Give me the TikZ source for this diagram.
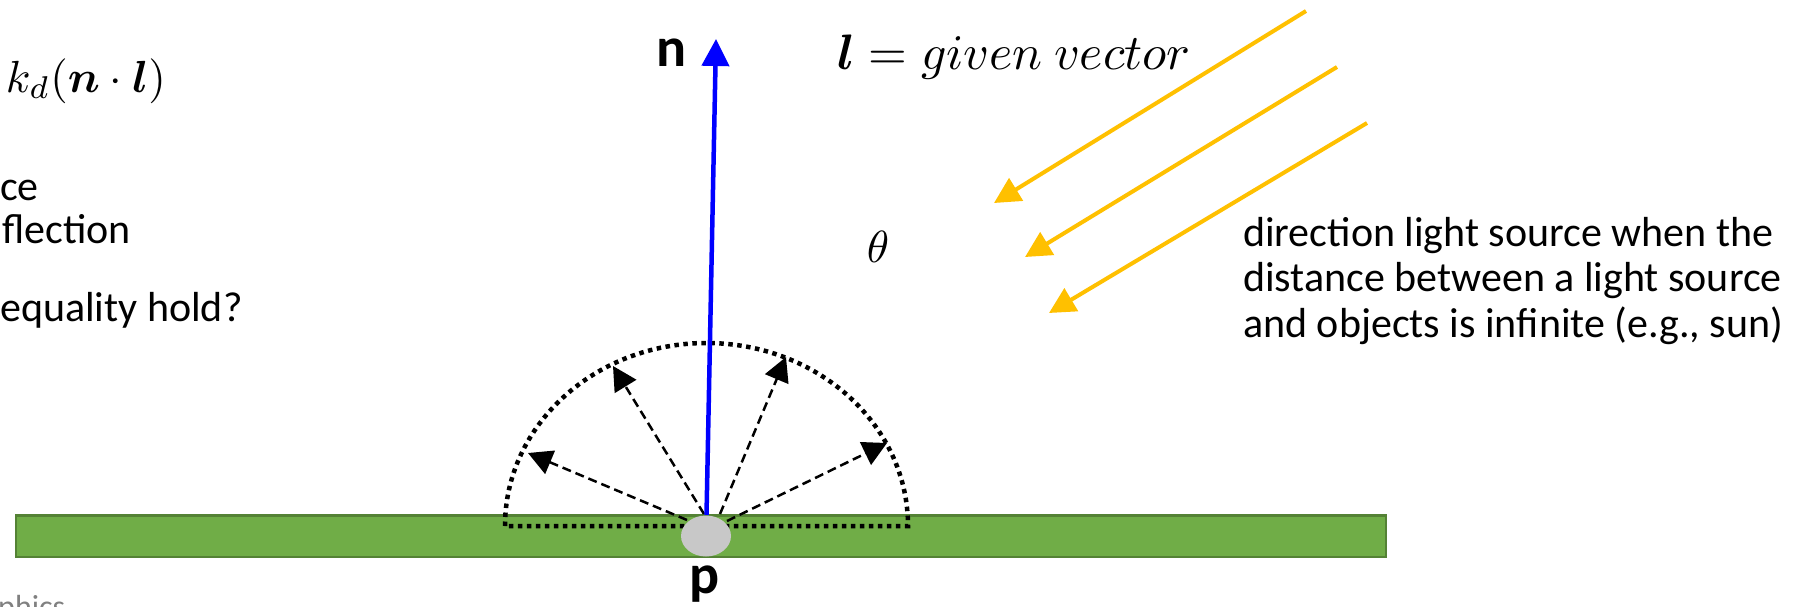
\documentclass[tikz,border=0pt]{standalone}
\usepackage{amsmath}
\usepackage{fontspec}
\setmainfont{Carlito}
\usetikzlibrary{arrows.meta,shapes.geometric}
\definecolor{grassfill}{RGB}{112,173,71}
\definecolor{grassedge}{RGB}{84,130,53}
\definecolor{sunyellow}{RGB}{255,192,0}
\definecolor{spotgrey}{RGB}{200,200,200}
\definecolor{footgrey}{RGB}{128,128,128}
\begin{document}
\begin{tikzpicture}[x=1pt,y=-1pt,
  bodytext/.style={font=\fontsize{42}{45.5}\selectfont, inner sep=0pt, anchor=base west, align=left},
  mathtext/.style={font=\fontsize{10}{12}\selectfont, scale=4.5, inner sep=0pt},
  vlabel/.style={font=\fontsize{56}{60}\selectfont\bfseries, inner sep=0pt, anchor=base},
  dotline/.style={line width=4.5pt, dash pattern=on 4.5pt off 4.5pt},
  rayarrow/.style={line width=2.5pt, dash pattern=on 9pt off 5pt, -{Triangle[length=24pt,width=25pt]}},
  sunarrow/.style={sunyellow, line width=4pt, -{Triangle[length=26pt,width=26pt]}},
  normarrow/.style={blue, line width=4.5pt, -{Triangle[length=27pt,width=27pt]}}]
\clip (0,0) rectangle (1808,606);
\fill[white] (0,0) rectangle (1808,606);

% left, cropped text
\node[mathtext, anchor=base west] (formula) at (5,92) {$k_d(\boldsymbol{n}\cdot\boldsymbol{l})$};
\node[bodytext] (t1) at (0,200) {ce};
\node[bodytext] (t2) at (2,243) {flection};
\node[bodytext] (t3) at (0,321) {equality hold?};
\node[font=\fontsize{32}{36}\selectfont, text=footgrey, inner sep=0pt, anchor=base west] (foot) at (-2,617) {phics};

% surface
\draw[grassedge, fill=grassfill, line width=2.5pt] (16,515.5) rectangle (1386,557);

% hemisphere
\draw[dotline] (505,526) arc[start angle=180, end angle=360, x radius=201.5, y radius=183] -- cycle;

% reflected rays
\coordinate (s1) at (687,520);
\coordinate (s2) at (704,514);
\coordinate (s3) at (720,514);
\coordinate (s4) at (727,521);
\coordinate (e1) at (528,453);
\coordinate (e2) at (613,366);
\coordinate (e3) at (786,357);
\coordinate (e4) at (887,443);
\draw[rayarrow] (s1) -- (e1);
\draw[rayarrow] (s2) -- (e2);
\draw[rayarrow] (s3) -- (e3);
\draw[rayarrow] (s4) -- (e4);

% normal
\coordinate (nb) at (706.5,515);
\coordinate (nt) at (716,39);
\draw[normarrow] (nb) -- (nt);
\node[vlabel] (nlab) at (672,66.5) {n};

% point p
\node[ellipse, fill=spotgrey, minimum width=50pt, minimum height=41pt, inner sep=0pt] (p) at (706,536) {};
\node[vlabel] (plab) at (705,593) {p};

% light direction
\coordinate (a1) at (1306,11);
\coordinate (b1) at (994,203);
\coordinate (a2) at (1337,67);
\coordinate (b2) at (1025,257);
\coordinate (a3) at (1367,123);
\coordinate (b3) at (1049,313);
\draw[sunarrow] (a1) -- (b1);
\draw[sunarrow] (a2) -- (b2);
\draw[sunarrow] (a3) -- (b3);

\node[mathtext, scale=1.107, anchor=base west] (ldef) at (836,69) {$\boldsymbol{l} = given\ vector$};
\node[mathtext] (theta) at (878,247) {$\theta$};

\node[bodytext] (desc) at (1243,337) {direction light source when the\\distance between a light source\\and objects is infinite (e.g., sun)};
\end{tikzpicture}
\end{document}
